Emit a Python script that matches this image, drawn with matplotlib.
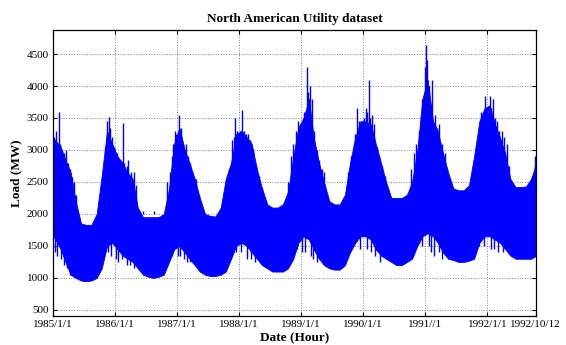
import matplotlib
matplotlib.use('Agg')
import matplotlib.pyplot as plt
import numpy as np
import pandas as pd

plt.rcParams['font.family'] = ['Liberation Serif', 'DejaVu Serif']

# Monthly envelope of the hourly load (MW)
upper_1985 = [3150, 3050, 2850, 2650, 2200, 1850, 1830, 1830, 2000, 2600, 3300, 3100]
upper_1986 = [2900, 2800, 2650, 2550, 2100, 1950, 1950, 1950, 1950, 2000, 2400, 3100]
upper_1987 = [3350, 3000, 2800, 2550, 2250, 2000, 1970, 1960, 2100, 2550, 2800, 3250]
upper_1988 = [3300, 3200, 3100, 2700, 2400, 2150, 2100, 2100, 2150, 2350, 2900, 3350]
upper_1989 = [3500, 3800, 3200, 2800, 2500, 2200, 2150, 2150, 2300, 2800, 3200, 3450]
upper_1990 = [3450, 3400, 3100, 2800, 2500, 2250, 2250, 2250, 2300, 2500, 3000, 3800]
upper_1991 = [4100, 3450, 3300, 2950, 2650, 2400, 2370, 2370, 2450, 2900, 3450, 3650]
upper_1992 = [3700, 3400, 3200, 2950, 2550, 2420, 2420, 2430, 2550, 2800]

lower_1985 = [1600, 1450, 1250, 1050, 1000, 960, 950, 960, 1000, 1150, 1500, 1550]
lower_1986 = [1450, 1350, 1300, 1250, 1150, 1050, 1020, 1000, 1020, 1050, 1250, 1450]
lower_1987 = [1500, 1400, 1300, 1200, 1100, 1050, 1030, 1030, 1050, 1100, 1300, 1500]
lower_1988 = [1550, 1500, 1400, 1300, 1200, 1150, 1100, 1100, 1100, 1150, 1300, 1550]
lower_1989 = [1650, 1600, 1450, 1300, 1200, 1150, 1130, 1130, 1200, 1400, 1550, 1650]
lower_1990 = [1650, 1600, 1450, 1350, 1300, 1250, 1200, 1200, 1250, 1300, 1500, 1650]
lower_1991 = [1700, 1650, 1550, 1400, 1300, 1280, 1250, 1250, 1270, 1300, 1550, 1650]
lower_1992 = [1650, 1600, 1550, 1450, 1350, 1300, 1300, 1300, 1300, 1350]

start_date, start_upper, start_lower = '1985-01-01', 3200, 1650
end_date, end_upper, end_lower = '1992-10-12', 2850, 1350

# Single-hour peaks sticking out above the band, per winter (date, MW)
peaks_85 = [('1985-01-05', 3200), ('1985-01-12', 3150), ('1985-01-20', 3300),
            ('1985-02-05', 3600), ('1985-02-12', 3100), ('1985-02-25', 3000),
            ('1985-03-08', 2950), ('1985-03-20', 3000), ('1985-04-02', 2800),
            ('1985-04-12', 2700), ('1985-04-25', 2570), ('1985-05-05', 2500),
            ('1985-05-15', 2300)]
peaks_86 = [('1985-10-15', 2400), ('1985-10-25', 2700), ('1985-11-05', 3050),
            ('1985-11-15', 3450), ('1985-11-25', 3520), ('1985-12-05', 3350),
            ('1985-12-15', 3200), ('1985-12-25', 3050), ('1986-01-10', 2950),
            ('1986-01-20', 2850), ('1986-02-05', 2800), ('1986-02-15', 3420),
            ('1986-02-25', 2800), ('1986-03-10', 2750), ('1986-03-20', 2850),
            ('1986-04-05', 2650), ('1986-04-20', 2650), ('1986-05-05', 2450),
            ('1986-05-25', 2050), ('1986-06-15', 2050), ('1986-08-20', 2050)]
peaks_87 = [('1986-11-05', 2500), ('1986-11-20', 2650), ('1986-12-01', 2900),
            ('1986-12-10', 3100), ('1986-12-20', 3300), ('1986-12-28', 3250),
            ('1987-01-10', 3550), ('1987-01-18', 3300), ('1987-01-25', 3350),
            ('1987-02-05', 3100), ('1987-02-20', 3100), ('1987-03-05', 2900),
            ('1987-03-20', 2800), ('1987-04-05', 2600), ('1987-04-20', 2550),
            ('1987-05-10', 2300)]
peaks_88 = [('1987-10-20', 2500), ('1987-11-05', 2700), ('1987-11-20', 3150),
            ('1987-12-01', 3200), ('1987-12-10', 3500), ('1987-12-20', 3300),
            ('1988-01-05', 3300), ('1988-01-20', 3620), ('1988-01-28', 3300),
            ('1988-02-10', 3250), ('1988-02-20', 3250), ('1988-03-05', 3150),
            ('1988-03-25', 3000), ('1988-04-10', 2750), ('1988-04-25', 2600),
            ('1988-05-15', 2400)]
peaks_89 = [('1988-10-15', 2500), ('1988-11-01', 2900), ('1988-11-15', 3100),
            ('1988-12-01', 3300), ('1988-12-15', 3450), ('1988-12-25', 3400),
            ('1989-01-10', 3500), ('1989-01-15', 3600), ('1989-01-25', 3500),
            ('1989-02-05', 4290), ('1989-02-12', 3900), ('1989-02-20', 4000),
            ('1989-03-05', 3800), ('1989-03-15', 3300), ('1989-04-01', 3000),
            ('1989-04-15', 2850), ('1989-05-01', 2700), ('1989-05-15', 2650)]
peaks_90 = [('1989-10-05', 2650), ('1989-10-20', 2900), ('1989-11-05', 3100),
            ('1989-11-15', 3250), ('1989-11-25', 3650), ('1989-12-05', 3450),
            ('1989-12-20', 3400), ('1990-01-05', 3500), ('1990-01-15', 3650),
            ('1990-01-25', 3600), ('1990-02-05', 4100), ('1990-02-12', 3500),
            ('1990-02-20', 3550), ('1990-03-05', 3400), ('1990-03-20', 3050),
            ('1990-04-05', 2900), ('1990-04-20', 2750), ('1990-05-10', 2600)]
peaks_91 = [('1990-10-10', 2700), ('1990-10-25', 2950), ('1990-11-10', 3100),
            ('1990-11-25', 3300), ('1990-12-05', 3550), ('1990-12-15', 3800),
            ('1990-12-28', 4300), ('1991-01-03', 4640), ('1991-01-10', 4400),
            ('1991-01-20', 4000), ('1991-02-01', 3700), ('1991-02-10', 4100),
            ('1991-02-25', 3550), ('1991-03-10', 3350), ('1991-03-25', 3400),
            ('1991-04-10', 3100), ('1991-04-25', 2950), ('1991-05-10', 2700)]
peaks_92 = [('1991-10-15', 2850), ('1991-11-01', 3050), ('1991-11-15', 3200),
            ('1991-11-25', 3600), ('1991-12-05', 3500), ('1991-12-20', 3850),
            ('1991-12-28', 3650), ('1992-01-15', 3850), ('1992-01-25', 3650),
            ('1992-02-05', 3800), ('1992-02-15', 3500), ('1992-02-25', 3450),
            ('1992-03-10', 3300), ('1992-03-25', 3300), ('1992-04-10', 3200),
            ('1992-04-25', 3100), ('1992-05-10', 2750), ('1992-09-20', 2600),
            ('1992-10-05', 2750), ('1992-10-10', 2900)]

# Single-hour dips below the band (date, MW)
dips = [('1985-01-10', 1400), ('1985-01-25', 1350), ('1985-02-15', 1300),
        ('1985-03-05', 1200), ('1985-03-25', 1150), ('1985-04-10', 1050),
        ('1985-11-20', 1400), ('1985-12-10', 1350), ('1986-01-05', 1300),
        ('1986-01-20', 1250), ('1986-02-10', 1300), ('1986-03-10', 1200),
        ('1986-04-01', 1200), ('1986-04-20', 1150), ('1986-12-05', 1350),
        ('1987-01-05', 1350), ('1987-01-20', 1350), ('1987-02-10', 1300),
        ('1987-03-01', 1250), ('1987-03-20', 1250), ('1987-04-15', 1200),
        ('1987-12-15', 1400), ('1988-01-10', 1400), ('1988-02-15', 1300),
        ('1988-03-10', 1300), ('1988-04-05', 1250), ('1988-12-05', 1450),
        ('1989-01-05', 1400), ('1989-01-25', 1400), ('1989-02-25', 1350),
        ('1989-03-10', 1300), ('1989-04-05', 1250), ('1989-12-10', 1450),
        ('1990-01-20', 1450), ('1990-02-15', 1400), ('1990-03-10', 1350),
        ('1990-04-10', 1250), ('1990-12-10', 1500), ('1991-01-20', 1500),
        ('1991-02-05', 1400), ('1991-02-20', 1350), ('1991-03-20', 1400),
        ('1991-04-10', 1300), ('1991-11-10', 1500), ('1991-12-15', 1500),
        ('1992-01-20', 1450), ('1992-02-10', 1450), ('1992-03-01', 1400),
        ('1992-04-01', 1400)]

tick_dates = ['1985-01-01', '1986-01-01', '1987-01-01', '1988-01-01', '1989-01-01',
              '1990-01-01', '1991-01-01', '1992-01-01', '1992-10-12']
tick_labels = ['1985/1/1', '1986/1/1', '1987/1/1', '1988/1/1', '1989/1/1',
               '1990/1/1', '1991//1', '1992/1/1', '1992/10/12']

upper = (upper_1985 + upper_1986 + upper_1987 + upper_1988 + upper_1989
         + upper_1990 + upper_1991 + upper_1992)
lower = (lower_1985 + lower_1986 + lower_1987 + lower_1988 + lower_1989
         + lower_1990 + lower_1991 + lower_1992)

months = pd.date_range('1985-01-01', '1992-10-01', freq='MS') + pd.Timedelta(days=14)
dates = [pd.Timestamp(start_date)] + list(months) + [pd.Timestamp(end_date)]
upper = [start_upper] + upper + [end_upper]
lower = [start_lower] + lower + [end_lower]

peaks = peaks_85 + peaks_86 + peaks_87 + peaks_88 + peaks_89 + peaks_90 + peaks_91 + peaks_92
peak_x = pd.to_datetime([d for d, v in peaks])
peak_y = [v for d, v in peaks]
dip_x = pd.to_datetime([d for d, v in dips])
dip_y = [v for d, v in dips]

fig = plt.figure(figsize=(5.66, 3.45), dpi=100)
ax = fig.add_axes([0.0936, 0.084, 0.853, 0.829])

blue = '#0000ff'
ax.fill_between(dates, lower, upper, color=blue, lw=0.6, edgecolor=blue, zorder=2)
# spikes start inside the band
ax.vlines(peak_x, 2000, peak_y, color=blue, lw=1.0, zorder=2)
ax.vlines(dip_x, dip_y, 1900, color=blue, lw=1.0, zorder=2)

ax.set_xlim(pd.Timestamp(start_date), pd.Timestamp(end_date))
ax.set_ylim(405, 4875)
ax.set_xticks(pd.to_datetime(tick_dates))
ax.set_xticklabels(tick_labels)
ax.set_yticks(np.arange(500, 4501, 500))

ax.grid(True, color='#808080', linestyle=':', linewidth=0.7, zorder=0)
ax.set_axisbelow(True)
ax.tick_params(direction='in', top=True, right=True, length=3, width=0.8,
               labelsize=8, pad=3)
for s in ax.spines.values():
    s.set_linewidth(0.9)

ax.set_title('North American Utility dataset', fontsize=9.5, fontweight='bold', pad=6)
ax.set_xlabel('Date (Hour)', fontsize=9.5, fontweight='bold', labelpad=2)
ax.set_ylabel('Load (MW)', fontsize=9.5, fontweight='bold', labelpad=3)

fig.savefig('out.png', dpi=100)
